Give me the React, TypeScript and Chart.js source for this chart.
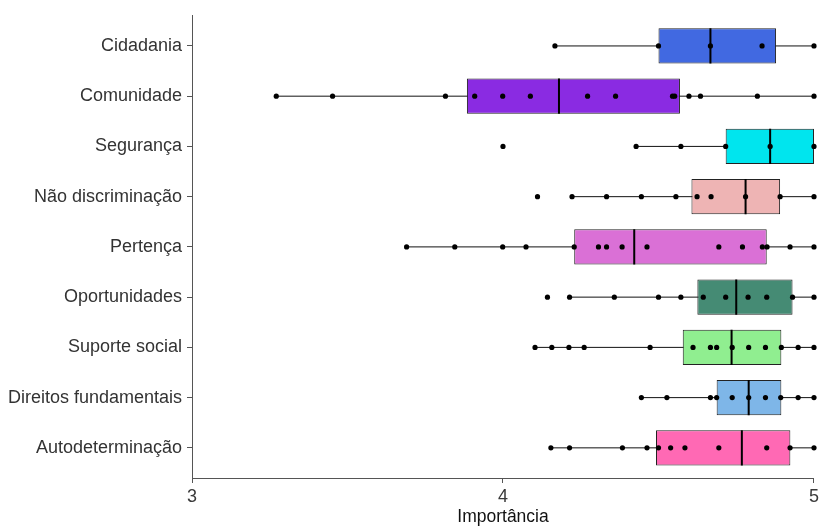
import React, { useEffect, useRef } from 'react';
import { Chart, registerables } from 'chart.js';

Chart.register(...registerables);

const categories = [
  'Cidadania',
  'Comunidade',
  'Segurança',
  'Não discriminação',
  'Pertença',
  'Oportunidades',
  'Suporte social',
  'Direitos fundamentais',
  'Autodeterminação',
];
const boxColors = ['#4169E1', '#8A2BE2', '#00E5EE', '#EEB4B4', '#DA70D6', '#458B74', '#90EE90', '#7EB6E8', '#FF69B4'];

const q1Values = [4.5, 3.884, 4.716, 4.606, 4.229, 4.625, 4.578, 4.687, 4.492];
const medianValues = [4.667, 4.18, 4.859, 4.78, 4.422, 4.75, 4.735, 4.79, 4.768];
const q3Values = [4.878, 4.569, 5.0, 4.891, 4.848, 4.931, 4.895, 4.895, 4.924];
const whiskerLow = [4.167, 3.271, 4.428, 4.222, 3.69, 4.214, 4.103, 4.445, 4.154];
const whiskerHigh = [5, 5, 5, 5, 5, 5, 5, 5, 5];

const pointsCidadania = [4.167, 4.5, 4.667, 4.833, 5.0];
const pointsComunidade = [3.271, 3.452, 3.815, 3.909, 3.999, 4.088, 4.272, 4.362, 4.545, 4.552, 4.598, 4.635, 4.818, 5.0];
const pointsSeguranca = [4.0, 4.428, 4.572, 4.716, 4.859, 5.0];
const pointsNaoDiscriminacao = [4.111, 4.222, 4.333, 4.445, 4.556, 4.624, 4.669, 4.78, 4.891, 5.0];
const pointsPertenca = [3.69, 3.845, 3.999, 4.074, 4.229, 4.307, 4.333, 4.383, 4.463, 4.694, 4.77, 4.834, 4.849, 4.923, 5.0];
const pointsOportunidades = [4.143, 4.214, 4.358, 4.5, 4.572, 4.644, 4.716, 4.788, 4.848, 4.931, 5.0];
const pointsSuporteSocial = [4.103, 4.157, 4.212, 4.261, 4.473, 4.611, 4.667, 4.687, 4.737, 4.79, 4.844, 4.895, 4.949, 5.0];
const pointsDireitos = [4.445, 4.527, 4.667, 4.687, 4.737, 4.79, 4.844, 4.893, 4.949, 5.0];
const pointsAutodeterminacao = [4.154, 4.214, 4.384, 4.463, 4.5, 4.539, 4.585, 4.694, 4.848, 4.923, 5.0];

const pointSets = [
  pointsCidadania,
  pointsComunidade,
  pointsSeguranca,
  pointsNaoDiscriminacao,
  pointsPertenca,
  pointsOportunidades,
  pointsSuporteSocial,
  pointsDireitos,
  pointsAutodeterminacao,
];

const xTicks = [3, 4, 5];
const xTitle = 'Importância';

export default function App() {
  const ref = useRef<HTMLCanvasElement>(null);

  useEffect(() => {
    const canvas = ref.current;
    if (!canvas) return;
    const half = 0.35;
    const datasets: any[] = [];

    categories.forEach((_, i) => {
      datasets.push({
        type: 'line',
        data: [
          { x: whiskerLow[i], y: i },
          { x: whiskerHigh[i], y: i },
        ],
        borderColor: '#111',
        borderWidth: 1,
        pointRadius: 0,
        order: 5,
        clip: false,
      });
    });

    datasets.push({
      type: 'bar',
      indexAxis: 'y',
      data: categories.map((_, i) => ({ x: [q1Values[i], q3Values[i]], y: i })),
      backgroundColor: boxColors,
      borderColor: '#222',
      borderWidth: 1,
      borderSkipped: false,
      categoryPercentage: 1,
      barPercentage: 0.7,
      order: 4,
    });

    categories.forEach((_, i) => {
      datasets.push({
        type: 'line',
        data: [
          { x: medianValues[i], y: i - half },
          { x: medianValues[i], y: i + half },
        ],
        borderColor: '#000',
        borderWidth: 2,
        pointRadius: 0,
        order: 3,
        clip: false,
      });
    });

    datasets.push({
      type: 'scatter',
      data: pointSets.flatMap((arr, i) => arr.map((v) => ({ x: v, y: i }))),
      backgroundColor: '#000',
      borderColor: '#000',
      borderWidth: 0,
      pointRadius: 2.6,
      order: 1,
      clip: false,
    });

    const font = "'Liberation Sans', Arial, sans-serif";

    const chart = new Chart(canvas, {
      type: 'bar',
      data: { datasets },
      options: {
        indexAxis: 'y',
        animation: false,
        responsive: false,
        devicePixelRatio: 1,
        events: [],
        layout: { padding: { top: 14, right: 4, left: 0, bottom: 0 } },
        plugins: { legend: { display: false }, tooltip: { enabled: false } },
        scales: {
          x: {
            type: 'linear',
            min: 3,
            max: 5,
            offset: false,
            afterBuildTicks: (scale: any) => {
              scale.ticks = xTicks.map((v) => ({ value: v }));
            },
            afterFit: (scale: any) => {
              scale.height = 49;
            },
            ticks: {
              color: '#3a3a3a',
              font: { family: font, size: 18 },
              padding: 3,
            },
            grid: { offset: false, drawOnChartArea: false, drawTicks: true, tickLength: 5, tickColor: '#555', tickWidth: 1 },
            border: { display: true, color: '#555', width: 1 },
            title: {
              display: true,
              text: xTitle,
              color: '#111',
              font: { family: font, size: 17.5, lineHeight: 1 },
              padding: { top: 0, bottom: 1 },
            },
          },
          y: {
            type: 'linear',
            min: -0.6,
            max: 8.6,
            reverse: true,
            offset: false,
            afterBuildTicks: (scale: any) => {
              scale.ticks = categories.map((_, i) => ({ value: i }));
            },
            afterFit: (scale: any) => {
              scale.width = 192;
            },
            ticks: {
              color: '#333',
              font: { family: font, size: 18 },
              padding: 5,
              autoSkip: false,
              callback: (v: any) => categories[Math.round(Number(v))],
            },
            grid: { offset: false, drawOnChartArea: false, drawTicks: true, tickLength: 5, tickColor: '#555', tickWidth: 1 },
            border: { display: true, color: '#555', width: 1 },
          },
        },
      } as any,
    });

    return () => chart.destroy();
  }, []);

  return (
    <div style={{ position: 'fixed', left: 0, top: 0, width: 822, height: 527, background: '#fff' }}>
      <canvas ref={ref} width={822} height={527} style={{ display: 'block', width: 822, height: 527 }} />
    </div>
  );
}
